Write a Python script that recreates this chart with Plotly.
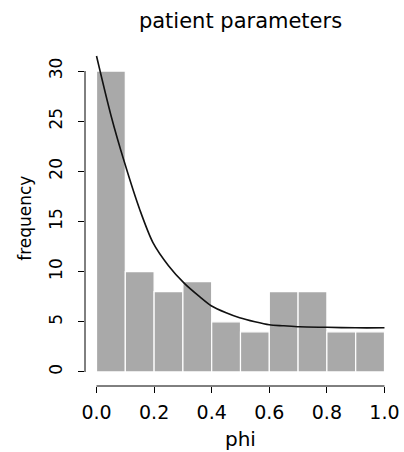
import plotly.graph_objects as go

# histogram data
bin_left = [0.0, 0.1, 0.2, 0.3, 0.4, 0.5, 0.6, 0.7, 0.8, 0.9]
counts = [30, 10, 8, 9, 5, 4, 8, 8, 4, 4]
bin_width = 0.1

# fitted curve
curve_x = [0.0, 0.05, 0.097, 0.15, 0.196, 0.25, 0.306, 0.358, 0.398, 0.45, 0.497, 0.55, 0.60, 0.65, 0.705, 0.8, 0.9, 1.0]
curve_y = [31.5, 25.6, 20.9, 16.2, 12.9, 10.6, 8.8, 7.5, 6.6, 5.9, 5.4, 5.0, 4.7, 4.6, 4.5, 4.45, 4.4, 4.4]

x_ticks = [0.0, 0.2, 0.4, 0.6, 0.8, 1.0]
x_tick_text = ["0.0", "0.2", "0.4", "0.6", "0.8", "1.0"]
y_ticks = [0, 5, 10, 15, 20, 25, 30]

FONT = "DejaVu Sans"

fig = go.Figure()
fig.add_trace(go.Bar(
    x=[l + bin_width / 2 for l in bin_left],
    y=counts,
    width=bin_width,
    marker=dict(color="#a9a9a9", line=dict(color="white", width=1.2)),
    hoverinfo="skip",
))
fig.add_trace(go.Scatter(
    x=curve_x, y=curve_y, mode="lines",
    line=dict(color="#111111", width=1.6, shape="spline", smoothing=0.8),
    hoverinfo="skip",
))

fig.update_layout(
    width=404, height=452,
    margin=dict(l=85, r=8, t=55, b=66),
    plot_bgcolor="white", paper_bgcolor="white",
    showlegend=False,
    bargap=0,
    font=dict(family=FONT, color="black"),
    title=dict(text="patient parameters", x=0.5, xref="paper", xanchor="center",
               y=1 - 21 / 452, yref="container", yanchor="middle",
               font=dict(size=21, family=FONT, color="black")),
    xaxis=dict(range=[-0.04, 1.04], showgrid=False, zeroline=False, showline=False,
               automargin=False,
               tickmode="array", tickvals=x_ticks, ticktext=x_tick_text,
               ticks="outside", ticklen=6, tickwidth=1, tickcolor="black",
               tickfont=dict(size=19, family=FONT, color="black"),
               ticklabelstandoff=3),
    yaxis=dict(range=[-1.4, 31.6], showgrid=False, zeroline=False, showline=False,
               automargin=False,
               tickmode="array", tickvals=y_ticks,
               ticks="outside", ticklen=6, tickwidth=1, tickcolor="black",
               tickangle=-90,
               tickfont=dict(size=17, family=FONT, color="black"),
               ticklabelstandoff=9),
    shapes=[
        dict(type="line", xref="x", yref="paper", x0=0, x1=1, y0=0, y1=0,
             line=dict(color="black", width=1)),
        dict(type="line", xref="paper", yref="y", x0=0, x1=0, y0=0, y1=30,
             line=dict(color="black", width=1)),
    ],
    annotations=[
        dict(text="phi", x=0.5, xref="paper", y=0, yref="paper",
             xanchor="center", yanchor="middle", yshift=-53, showarrow=False,
             font=dict(size=20, family=FONT, color="black")),
        dict(text="frequency", x=0, xref="paper", y=0.505, yref="paper",
             xanchor="center", yanchor="middle", xshift=-60, showarrow=False,
             textangle=-90, font=dict(size=17, family=FONT, color="black")),
    ],
)

fig.write_html("out.html", config={"displayModeBar": False, "staticPlot": True},
               post_script="document.body.style.margin='0';document.body.style.overflow='hidden';")
